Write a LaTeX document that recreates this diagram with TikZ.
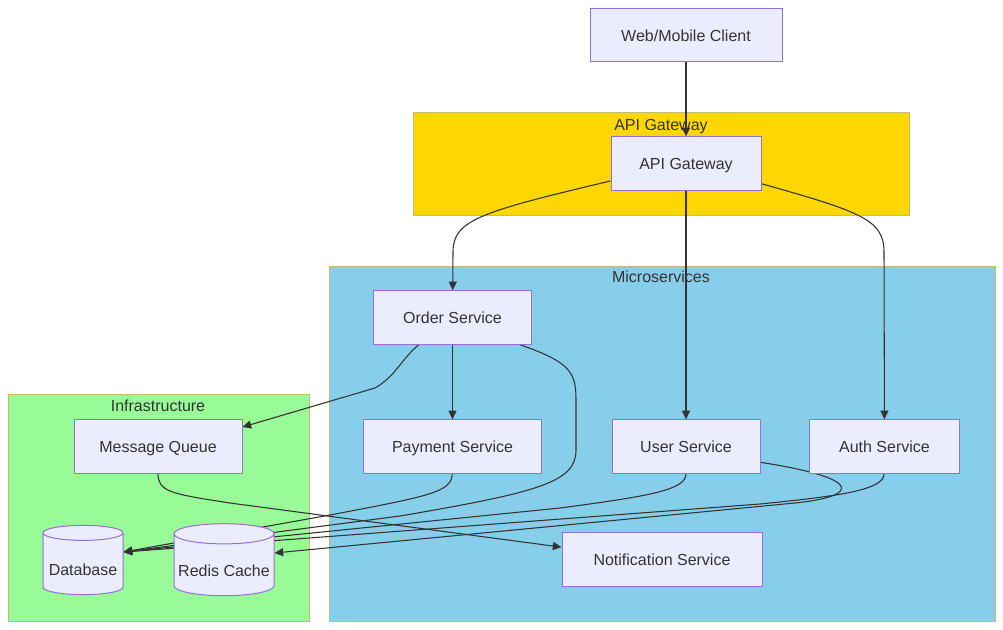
\documentclass[tikz,border=0pt]{standalone}
\usepackage{fontspec}
\setmainfont{Liberation Sans}
\usetikzlibrary{positioning, arrows.meta, shapes.geometric, calc}
\definecolor{nodefill}{RGB}{236, 236, 255}
\definecolor{nodeline}{RGB}{147, 112, 219}
\definecolor{edgegray}{RGB}{51, 51, 51}
\definecolor{gwgold}{RGB}{255, 215, 0}
\definecolor{msblue}{RGB}{135, 206, 235}
\definecolor{infragreen}{RGB}{152, 251, 152}
\definecolor{clusterline}{RGB}{190, 190, 110}
\pgfdeclarelayer{clusters}
\pgfdeclarelayer{edges}
\pgfsetlayers{clusters,edges,main}

\begin{document}
\begin{tikzpicture}[x=0.75pt, y=-0.75pt,
    font=\fontsize{12}{14}\selectfont,
    svc/.style={draw=nodeline, fill=nodefill, line width=0.75pt, text=edgegray,
                minimum height=40pt, inner sep=0pt, text height=11.4pt, text depth=2.4pt},
    store/.style={cylinder, shape border rotate=90, aspect=0.22, draw=nodeline,
                  cylinder uses custom fill, cylinder body fill=nodefill,
                  cylinder end fill=nodefill, line width=0.75pt, text=edgegray, inner sep=0pt,
                  text height=19pt, text depth=2.4pt},
    flow/.style={draw=edgegray, line width=0.8pt, -{Triangle[length=6.5pt, width=6pt]}},
    cluster/.style={draw=clusterline, line width=0.75pt},
    title/.style={text=edgegray, text height=8.6pt, text depth=2.4pt}]
  \useasboundingbox (0,0) rectangle (1003,629);

  % clusters
  \begin{pgfonlayer}{clusters}
    \draw[cluster, fill=gwgold] (413,112) rectangle (909,215);
    \draw[cluster, fill=msblue] (329,266) rectangle (995,621);
    \draw[cluster, fill=infragreen] (8,394) rectangle (309,621);
  \end{pgfonlayer}
  \node[title] (gwtitle) at (661,126) {API Gateway};
  \node[title] (mstitle) at (661,278) {Microservices};
  \node[title] (infratitle) at (158,407) {Infrastructure};

  % nodes
  \node[svc, minimum width=144pt] (client) at (686,35) {Web/Mobile Client};
  \node[svc, minimum width=112.5pt] (gw) at (686,163.5) {API Gateway};
  \node[svc, minimum width=118pt] (order) at (452.5,317.5) {Order Service};
  \node[svc, minimum width=133pt] (pay) at (452.5,446.5) {Payment Service};
  \node[svc, minimum width=111pt] (user) at (686,446.5) {User Service};
  \node[svc, minimum width=112pt] (auth) at (884.5,446.5) {Auth Service};
  \node[svc, minimum width=150pt] (notif) at (662,559.5) {Notification Service};
  \node[svc, minimum width=126pt] (mq) at (158,446.5) {Message Queue};
  \node[store, minimum width=60pt, minimum height=52pt] (db) at (83,564) {Database};
  \node[store, minimum width=75pt, minimum height=54pt] (cache) at (224,565) {Redis Cache};

  % connectors
  \begin{pgfonlayer}{edges}
    \draw[flow] (client) -- (gw);
    \draw[flow] (gw.193) .. controls (480,212) and (453,220) .. (453,252) -- (order);
    \draw[flow] (gw) -- (user);
    \draw[flow] (gw.-15) .. controls (862,212) and (884,220) .. (884,252) -- (auth);
    \draw[flow] (order) -- (pay);
    \draw[flow] (order.219) .. controls (402,358) and (396,376) .. (375,388) -- (mq.13);
    \draw[flow] (order.-22) .. controls (570,362) and (576,372) .. (576,400)
                -- (576,450) .. controls (576,482) and (540,492) .. (400,516)
                -- ([yshift=9pt]db.east);
    \draw[flow] (pay) .. controls (452,492) and (430,496) .. (330,515) -- ([yshift=9pt]db.east);
    \draw[flow] (user) .. controls (686,490) and (650,496) .. (560,508) -- ([yshift=9pt]db.east);
    \draw[flow] (auth) .. controls (884,490) and (840,496) .. (760,504) -- ([yshift=9pt]db.east);
    \draw[flow] (user.-12) .. controls (862,478) and (862,496) .. (795,503) -- ([yshift=9pt]cache.east);
    \draw[flow] (mq) .. controls (158,492) and (172,494) .. (230,503) -- (notif.173);
  \end{pgfonlayer}
\end{tikzpicture}
\end{document}
